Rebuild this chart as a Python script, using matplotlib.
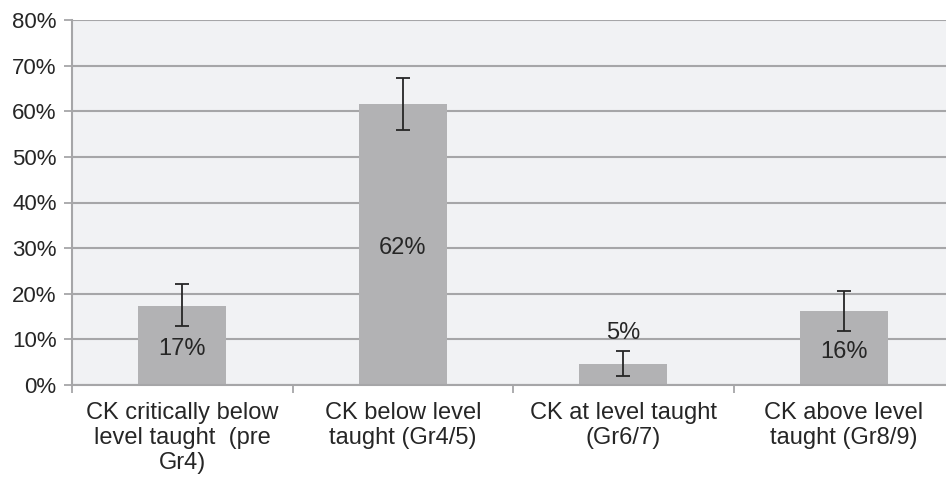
import numpy as np
import matplotlib.pyplot as plt
from matplotlib.ticker import FuncFormatter

categories = ["CK critically below\nlevel taught  (pre\nGr4)",
              "CK below level\ntaught (Gr4/5)",
              "CK at level taught\n(Gr6/7)",
              "CK above level\ntaught (Gr8/9)"]
values = [17.4, 61.6, 4.7, 16.2]
err_low = [12.9, 55.9, 2.0, 11.8]
err_high = [22.1, 67.3, 7.5, 20.6]
labels = ["17%", "62%", "5%", "16%"]

plt.rcParams.update({'font.family': 'Liberation Sans',
                     'font.size': 16,
                     'text.color': '#262626',
                     'xtick.color': '#262626',
                     'ytick.color': '#262626'})

grid_c = '#a6a6a8'
fig = plt.figure(figsize=(9.46, 4.79), dpi=100)
ax = fig.add_axes([72/946, 1 - 385/479, 882/946, 365/479])
ax.set_facecolor('#f1f2f4')

x = np.arange(len(values))
v = np.array(values)
yerr = [v - np.array(err_low), np.array(err_high) - v]
ax.bar(x, v, width=0.4, color='#b2b2b4', zorder=2)
ax.errorbar(x, v, yerr=yerr, fmt='none', ecolor='#262626', elinewidth=1.3,
            capsize=5, capthick=1.3, zorder=3)

for i, (val, lab) in enumerate(zip(values, labels)):
    if val < 8:
        ypos = err_high[i] + 4
    else:
        ypos = val / 2 - 0.8
    ax.text(i, ypos, lab, ha='center', va='center', fontsize=17, zorder=4)

ax.set_xlim(-0.5, len(values) - 0.5)
ax.set_ylim(0, 80)
ax.set_yticks(np.arange(0, 81, 10))
ax.yaxis.set_major_formatter(FuncFormatter(lambda t, p: f"{t:.0f}%"))
ax.yaxis.grid(True, color=grid_c, linewidth=1.5, zorder=1)
ax.set_axisbelow(True)

ax.set_xticks(np.arange(-0.5, len(values), 1.0))
ax.set_xticklabels([])
ax.set_xticks(x, minor=True)
ax.set_xticklabels(categories, minor=True, linespacing=1.2, fontsize=17)
ax.tick_params(axis='x', which='minor', length=0, pad=12)
ax.tick_params(axis='x', which='major', length=6, width=1.3, color=grid_c)
ax.tick_params(axis='y', length=6, width=1.3, color=grid_c, pad=5)

for s in ['top', 'right']:
    ax.spines[s].set_visible(False)
for s in ['left', 'bottom']:
    ax.spines[s].set_color(grid_c)
    ax.spines[s].set_linewidth(1.5)

fig.savefig('out.png', dpi=100)
